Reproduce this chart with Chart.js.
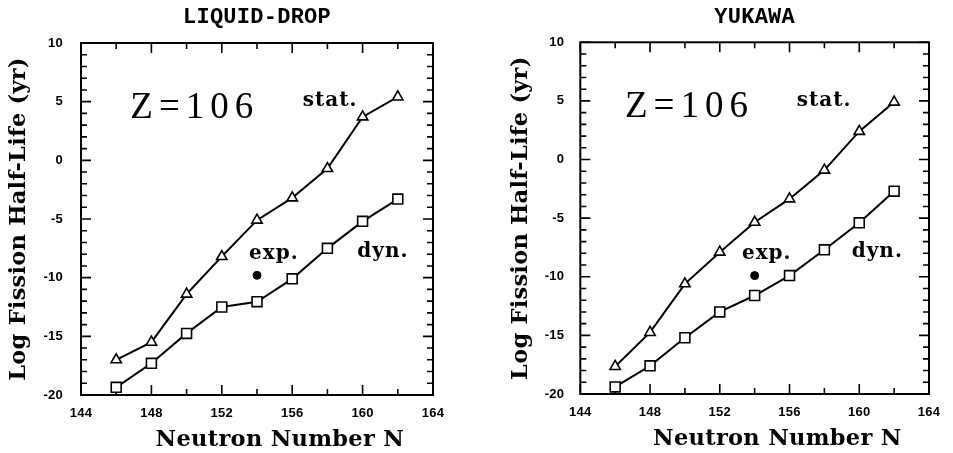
<!DOCTYPE html>
<html><head><meta charset="utf-8">
<script src="https://cdn.jsdelivr.net/npm/chart.js@4/dist/chart.umd.min.js"></script>
<style>
html,body{margin:0;padding:0;background:#fff;}
#wrap{position:relative;width:953px;height:453px;overflow:hidden;background:#fff;}
canvas{position:absolute;top:0;}
#c1{left:0;} #c2{left:476px;}
</style></head><body>
<div id="wrap"><canvas id="c1" width="476" height="453"></canvas><canvas id="c2" width="477" height="453"></canvas></div>
<script>
// ---- data ----
const neutronN = [146, 148, 150, 152, 154, 156, 158, 160, 162];
const ldStat = [-17.0, -15.5, -11.4, -8.2, -5.1, -3.2, -0.7, 3.7, 5.4];
const ldDyn  = [-19.35, -17.3, -14.75, -12.5, -12.05, -10.1, -7.5, -5.2, -3.3];
const ykStat = [-17.65, -14.75, -10.6, -7.9, -5.35, -3.36, -0.9, 2.4, 4.9];
const ykDyn  = [-19.4, -17.6, -15.2, -13.0, -11.6, -9.9, -7.7, -5.4, -2.7];
const expN = [154];
const ldExp = [-9.8];
const ykExp = [-9.9];
const panelTitles = ['LIQUID-DROP', 'YUKAWA'];
const xTickRange = [144, 164];   // labelled every 4
const yTickRange = [-20, 10];    // labelled every 5
const xTitleText = 'Neutron Number N';
const yTitleText = 'Log Fission Half-Life (yr)';

const pts = (xs, ys) => xs.map((v, i) => ({x: v, y: ys[i]}));

const deco = {
  id: 'deco',
  beforeDraw(chart) { chart.ctx.letterSpacing = '0.25px'; },
  beforeDatasetsDraw(chart) {
    const {ctx, chartArea: a, scales: {x, y}} = chart;
    ctx.save();
    ctx.strokeStyle = '#000';
    ctx.lineWidth = 2;
    ctx.strokeRect(a.left, a.top, a.right - a.left, a.bottom - a.top);
    ctx.lineWidth = 1.6;
    ctx.beginPath();
    for (let v = xTickRange[0]; v <= xTickRange[1]; v += 2) {
      const px = x.getPixelForValue(v);
      const len = ((v - xTickRange[0]) % 4 === 0) ? 10 : 6;
      ctx.moveTo(px, a.bottom); ctx.lineTo(px, a.bottom - len);
      ctx.moveTo(px, a.top); ctx.lineTo(px, a.top + len);
    }
    for (let v = yTickRange[0]; v <= yTickRange[1]; v += 1) {
      const py = y.getPixelForValue(v);
      const len = ((v - yTickRange[0]) % 5 === 0) ? 10 : 6;
      ctx.moveTo(a.left, py); ctx.lineTo(a.left + len, py);
      ctx.moveTo(a.right, py); ctx.lineTo(a.right - len, py);
    }
    ctx.stroke();
    ctx.restore();
  },
  afterDraw(chart, args, opts) {
    const {ctx, chartArea: a, scales: {x, y}} = chart;
    ctx.save();
    ctx.fillStyle = '#000';
    (opts.labels || []).forEach(l => {
      ctx.font = l.font;
      ctx.letterSpacing = l.spacing + 'px';
      ctx.textAlign = 'left';
      ctx.textBaseline = 'alphabetic';
      ctx.fillText(l.text, x.getPixelForValue(l.x), y.getPixelForValue(l.y));
    });
    ctx.font = 'bold 22.5px "DejaVu Serif"';
    ctx.letterSpacing = '0.3px';
    ctx.textAlign = 'center';
    ctx.textBaseline = 'alphabetic';
    ctx.fillText(xTitleText, x.getPixelForValue(opts.xTitleAt), a.bottom + 51);
    ctx.restore();
  }
};

function makeChart(id, title, stat, dyn, exp, cfg) {
  return new Chart(document.getElementById(id), {
    type: 'line',
    data: {
      datasets: [
        {label: 'stat.', data: pts(neutronN, stat), borderColor: '#000', borderWidth: 2,
         pointStyle: 'triangle', pointRadius: 6, pointBorderWidth: 1.6, pointBackgroundColor: '#fff', pointBorderColor: '#000', tension: 0},
        {label: 'dyn.', data: pts(neutronN, dyn), borderColor: '#000', borderWidth: 2,
         pointStyle: 'rect', pointRadius: 7, pointBorderWidth: 1.6, pointBackgroundColor: '#fff', pointBorderColor: '#000', tension: 0},
        {label: 'exp.', data: pts(expN, exp), showLine: false,
         pointStyle: 'circle', pointRadius: 4, pointBackgroundColor: '#000', pointBorderColor: '#000'}
      ]
    },
    options: {
      responsive: false,
      animation: false,
      layout: {padding: {left: 0, right: cfg.padRight, top: 0, bottom: 0}},
      plugins: {
        legend: {display: false},
        tooltip: {enabled: false},
        title: {display: true, text: title, fullSize: false, color: '#000',
                font: {family: '"Liberation Mono"', weight: 'bold', size: 22, lineHeight: 1.2},
                padding: {top: 4, bottom: cfg.top - 4 - 26.4}},
        deco: {labels: cfg.labels, xTitleAt: 155.3}
      },
      scales: {
        x: {type: 'linear', min: xTickRange[0], max: xTickRange[1],
            grid: {display: false, drawTicks: false}, border: {display: false},
            ticks: {stepSize: 4, color: '#000', padding: 11,
                    font: {family: '"Liberation Sans"', weight: 'bold', size: 13}},
            afterFit: s => { s.height = cfg.xHeight; }},
        y: {type: 'linear', min: yTickRange[0], max: yTickRange[1],
            grid: {display: false, drawTicks: false}, border: {display: false},
            ticks: {stepSize: 5, color: '#000', padding: cfg.yPad,
                    font: {family: '"Liberation Sans"', weight: 'bold', size: 13}},
            title: {display: true, text: yTitleText, color: '#000',
                    font: {family: '"DejaVu Serif"', weight: 'bold', size: 22.5, lineHeight: 1.2},
                    padding: {top: cfg.yTitlePad, bottom: 0}},
            afterFit: s => { s.width = cfg.yWidth; }}
      }
    },
    plugins: [deco]
  });
}

const zFont = '37px "Liberation Serif"';
const wFont = 'bold 20px "DejaVu Serif"';
makeChart('c1', panelTitles[0], ldStat, ldDyn, ldExp, {
  padRight: 43, top: 43, xHeight: 58, yWidth: 81, yPad: 18, yTitlePad: 5.5,
  labels: [
    {text: 'Z=106', x: 146.8, y: 3.6, font: zFont, spacing: 6},
    {text: 'stat.', x: 156.6, y: 4.63, font: wFont, spacing: 1},
    {text: 'exp.', x: 153.55, y: -8.44, font: wFont, spacing: 1},
    {text: 'dyn.', x: 159.7, y: -8.2, font: wFont, spacing: 1}
  ]
});
makeChart('c2', panelTitles[1], ykStat, ykDyn, ykExp, {
  padRight: 24, top: 42.3, xHeight: 59, yWidth: 104.3, yPad: 16, yTitlePad: 31.5,
  labels: [
    {text: 'Z=106', x: 146.56, y: 3.6, font: zFont, spacing: 6},
    {text: 'stat.', x: 156.42, y: 4.57, font: wFont, spacing: 1},
    {text: 'exp.', x: 153.27, y: -8.5, font: wFont, spacing: 1},
    {text: 'dyn.', x: 159.57, y: -8.33, font: wFont, spacing: 1}
  ]
});
</script>
</body></html>
